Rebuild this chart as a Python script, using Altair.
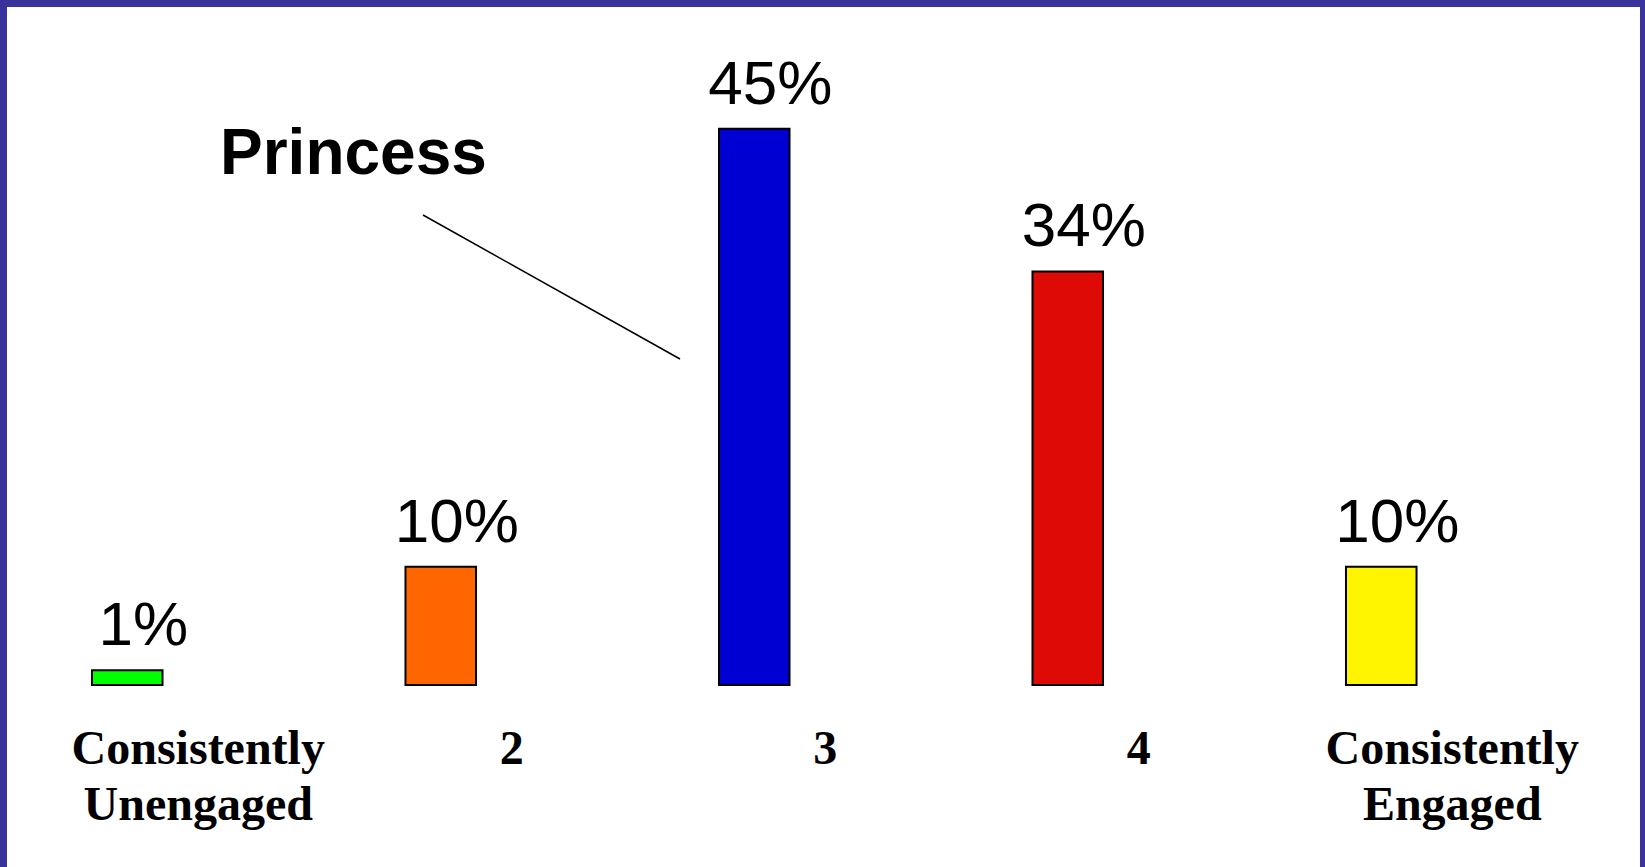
import altair as alt
import pandas as pd

categories = ["Consistently Unengaged", "2", "3", "4", "Consistently Engaged"]
values = [1.2, 9.7, 45.6, 33.9, 9.7]
labels = ["1%", "10%", "45%", "34%", "10%"]
colors = ["#00FF00", "#FF6600", "#0000D2", "#DD0A05", "#FFF500"]

df = pd.DataFrame({"cat": categories, "value": values, "label": labels})

W, H = 1508.5, 685
PAD = {"left": 0, "top": 0, "right": 1645 - W, "bottom": 867 - H}
BORDER = "#38349C"

x_enc = alt.X(
    "cat:N",
    sort=categories,
    scale=alt.Scale(paddingInner=0.775, paddingOuter=0.2934),
    axis=alt.Axis(
        title=None, domain=False, ticks=False, grid=False, labelAngle=0,
        labelFont="Liberation Serif", labelFontWeight="bold", labelFontSize=48,
        labelColor="#000000", labelOffset=71, labelPadding=78, labelBaseline="alphabetic",
        labelLineHeight=56, labelExpr="split(datum.label, ' ')", labelLimit=0,
    ),
)
y_enc = alt.Y("value:Q", scale=alt.Scale(domain=[0, 685 / 12.2], nice=False, zero=True), axis=None)

base = alt.Chart(df)

bars = base.mark_bar(stroke="#000000", strokeWidth=2).encode(
    x=x_enc,
    y=y_enc,
    color=alt.Color("cat:N", sort=categories, scale=alt.Scale(domain=categories, range=colors), legend=None),
)

texts = base.mark_text(
    font="Liberation Sans", fontSize=62, baseline="alphabetic", align="center", dx=16, dy=-25, color="#000000"
).encode(x=alt.X("cat:N", sort=categories), y="value:Q", text="label:N")

princess = alt.Chart(pd.DataFrame({"t": ["Princess"]})).mark_text(
    font="Liberation Sans", fontWeight="bold", fontSize=64, align="left", baseline="alphabetic", color="#000000"
).encode(x=alt.value(220), y=alt.value(174), text="t:N")

leader = alt.Chart(pd.DataFrame({"a": [0]})).mark_rule(color="#000000", strokeWidth=1.5).encode(
    x=alt.value(423), y=alt.value(215), x2=alt.value(680), y2=alt.value(359)
)

border_left = alt.Chart(pd.DataFrame({"a": [0]})).mark_rect(color=BORDER).encode(
    x=alt.value(0), x2=alt.value(7), y=alt.value(0), y2=alt.value(867)
)
border_top = alt.Chart(pd.DataFrame({"a": [0]})).mark_rect(color=BORDER).encode(
    x=alt.value(0), x2=alt.value(1645), y=alt.value(0), y2=alt.value(7)
)
border_right = alt.Chart(pd.DataFrame({"a": [0]})).mark_rect(color=BORDER).encode(
    x=alt.value(1640), x2=alt.value(1645), y=alt.value(0), y2=alt.value(867)
)

chart = alt.layer(bars, texts, princess, leader, border_left, border_top, border_right).properties(
    width=W, height=H, padding=PAD, autosize=alt.AutoSizeParams(type="none"), background="#FFFFFF"
).configure_view(stroke="transparent")

chart.save("out.html", embed_options={"renderer": "svg", "actions": False})
